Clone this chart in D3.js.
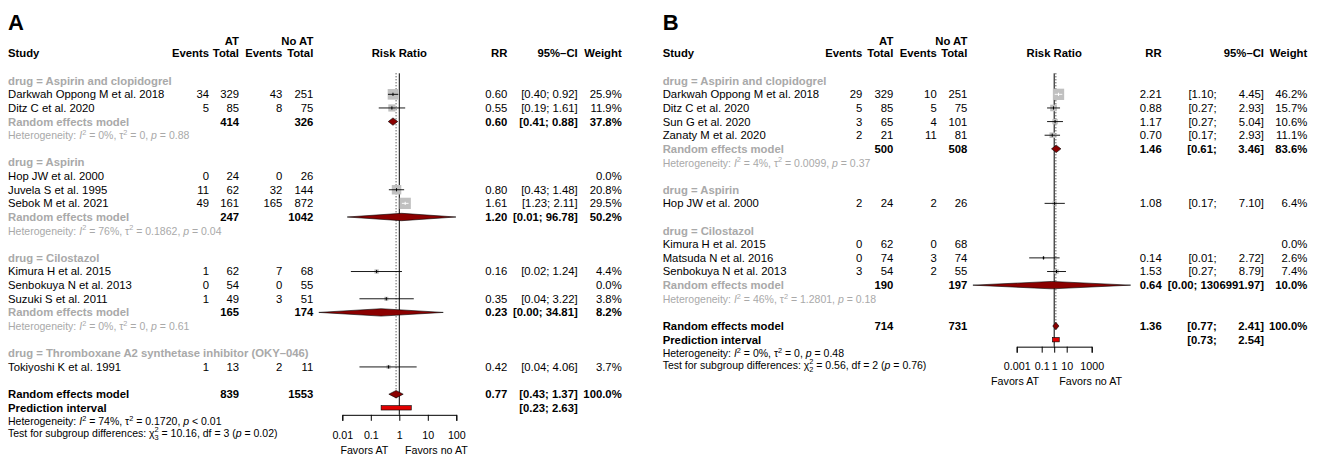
<!DOCTYPE html>
<html>
<head>
<meta charset="utf-8">
<script src="https://cdn.jsdelivr.net/npm/d3@7"></script>
<style>
  html, body { margin: 0; padding: 0; background: #fff; }
  svg { display: block; font-family: "Liberation Sans", Arial, Helvetica, sans-serif; }
</style>
</head>
<body>
<svg id="chart" width="1320" height="458"></svg>
<script>
// ---------- Panel A: all antithrombotic studies ----------
const groupsA = ["Aspirin and clopidogrel", "Aspirin", "Cilostazol",
                 "Thromboxane A2 synthetase inhibitor (OKY\u2013046)"];
const studyA = ["Darkwah Oppong M et al. 2018", "Ditz C et al. 2020", "Hop JW et al. 2000",
                "Juvela S et al. 1995", "Sebok M et al. 2021", "Kimura H et al. 2015",
                "Senbokuya N et al. 2013", "Suzuki S et al. 2011", "Tokiyoshi K et al. 1991"];
const groupOfA  = [0, 0, 1, 1, 1, 2, 2, 2, 3];
const eventsAtA = [34, 5, 0, 11, 49, 1, 0, 1, 1];
const totalAtA  = [329, 85, 24, 62, 161, 62, 54, 49, 13];
const eventsNoA = [43, 8, 0, 32, 165, 7, 0, 3, 2];
const totalNoA  = [251, 75, 26, 144, 872, 68, 55, 51, 11];
const rrA       = [0.60, 0.55, null, 0.80, 1.61, 0.16, null, 0.35, 0.42];
const lowerA    = [0.40, 0.19, null, 0.43, 1.23, 0.02, null, 0.04, 0.04];
const upperA    = [0.92, 1.61, null, 1.48, 2.11, 1.24, null, 3.22, 4.06];
const weightA   = [25.9, 11.9, 0.0, 20.8, 29.5, 4.4, 0.0, 3.8, 3.7];
const subRrA      = [0.60, 1.20, 0.23, null];
const subLowerA   = [0.41, 0.0149, 0.0015, null];
const subUpperA   = [0.88, 96.78, 34.81, null];
const subWeightA  = [37.8, 50.2, 8.2, null];
const subTotalAtA = [414, 247, 165, null];
const subTotalNoA = [326, 1042, 174, null];
const subI2A      = ["0%", "76%", "0%", null];
const subTau2A    = ["0", "0.1862", "0", null];
const subPA       = ["= 0.88", "= 0.04", "= 0.61", null];
const overallA    = [0.77, 0.43, 1.37, 100.0];
const overallTotA = [839, 1553];
const predA       = [0.23, 2.63];
const overallHetA = ["74%", "0.1720", "< 0.01"];
const testA       = ["3", "10.16", "3", "0.02"];
const ticksA      = [0.01, 0.1, 1, 10, 100];
const tickLabelsA = ["0.01", "0.1", "1", "10", "100"];

// ---------- Panel B ----------
const groupsB = ["Aspirin and clopidogrel", "Aspirin", "Cilostazol"];
const studyB = ["Darkwah Oppong M et al. 2018", "Ditz C et al. 2020", "Sun G et al. 2020",
                "Zanaty M et al. 2020", "Hop JW et al. 2000", "Kimura H et al. 2015",
                "Matsuda N et al. 2016", "Senbokuya N et al. 2013"];
const groupOfB  = [0, 0, 0, 0, 1, 2, 2, 2];
const eventsAtB = [29, 5, 3, 2, 2, 0, 0, 3];
const totalAtB  = [329, 85, 65, 21, 24, 62, 74, 54];
const eventsNoB = [10, 5, 4, 11, 2, 0, 3, 2];
const totalNoB  = [251, 75, 101, 81, 26, 68, 74, 55];
const rrB       = [2.21, 0.88, 1.17, 0.70, 1.08, null, 0.14, 1.53];
const lowerB    = [1.10, 0.27, 0.27, 0.17, 0.17, null, 0.01, 0.27];
const upperB    = [4.45, 2.93, 5.04, 2.93, 7.10, null, 2.72, 8.79];
const weightB   = [46.2, 15.7, 10.6, 11.1, 6.4, 0.0, 2.6, 7.4];
const subRrB      = [1.46, null, 0.64];
const subLowerB   = [0.61, null, 3.13e-7];
const subUpperB   = [3.46, null, 1306991.97];
const subWeightB  = [83.6, null, 10.0];
const subTotalAtB = [500, null, 190];
const subTotalNoB = [508, null, 197];
const subI2B      = ["4%", null, "46%"];
const subTau2B    = ["0.0099", null, "1.2801"];
const subPB       = ["= 0.37", null, "= 0.18"];
const overallB    = [1.36, 0.77, 2.41, 100.0];
const overallTotB = [714, 731];
const predB       = [0.73, 2.54];
const overallHetB = ["0%", "0", "= 0.48"];
const testB       = ["2", "0.56", "2", "0.76"];
const ticksB      = [0.001, 0.1, 1, 10, 1000];
const tickLabelsB = ["0.001", "0.1", "1", "10", "1000"];

// ---------- shared styling ----------
const FS = 11.3;          // main text size
const HFS = 10.5;         // heterogeneity text size
const AFS = 10.7;         // axis text size
const GREY = "#a9a9a9";
const SQUARE = "#c0c0c0";
const DIAMOND = "#8b0000";
const PRED = "#e00000";
const rowY = k => 80.7 + 13.63 * k;

const svg = d3.select("#chart");

function txt(g, x, y, s, opt = {}) {
  return g.append("text")
    .attr("x", x).attr("y", y).attr("dy", "0.35em")
    .attr("font-size", opt.size || FS)
    .attr("font-weight", opt.bold ? "bold" : null)
    .attr("text-anchor", opt.anchor || "end")
    .attr("fill", opt.color || "#000")
    .text(s);
}

// text with italic letters, superscripts and subscripts
function rich(g, x, y, parts, color) {
  const t = g.append("text").attr("x", x).attr("y", y + 0.35 * HFS)
    .attr("font-size", HFS).attr("fill", color);
  let shift = 0;
  parts.forEach(p => {
    const ts = t.append("tspan").text(p.t);
    let target = 0;
    if (p.sup) target = -HFS * 0.42;
    if (p.sub) target = HFS * 0.32;
    if (target !== shift) ts.attr("dy", target - shift);
    shift = target;
    if (p.sup || p.sub) ts.attr("font-size", HFS * 0.7);
    if (p.i) ts.attr("font-style", "italic");
    if (p.dx) ts.attr("dx", p.dx);
  });
  return t;
}

function hetParts(i2, tau2, p) {
  return [
    { t: "Heterogeneity: " }, { t: "I", i: true }, { t: "2", sup: true },
    { t: " = " + i2 + ", \u03c4" }, { t: "2", sup: true },
    { t: " = " + tau2 + ", " }, { t: "p", i: true }, { t: " " + p }
  ];
}

function drawPanel(P) {
  const g = svg.append("g");
  const C = P.cols;
  const x = d3.scaleLog().domain(P.domain).range(P.range);
  const f2 = v => v.toFixed(2);

  // panel letter and column headers
  g.append("text").attr("x", C.study).attr("y", 29.5)
    .attr("font-size", 22).attr("font-weight", "bold").text(P.letter);
  txt(g, C.totAt, 40.7, "AT", { bold: true });
  txt(g, C.totNo, 40.7, "No AT", { bold: true });
  txt(g, C.study, 53.3, "Study", { bold: true, anchor: "start" });
  txt(g, C.evAt, 53.3, "Events", { bold: true });
  txt(g, C.totAt, 53.3, "Total", { bold: true });
  txt(g, C.evNo, 53.3, "Events", { bold: true });
  txt(g, C.totNo, 53.3, "Total", { bold: true });
  txt(g, x(1), 53.3, "Risk Ratio", { bold: true, anchor: "middle" });
  txt(g, C.rr, 53.3, "RR", { bold: true });
  txt(g, C.ci, 53.3, "95%\u2013CI", { bold: true });
  txt(g, C.w, 53.3, "Weight", { bold: true });

  // row layout
  const rows = [];
  let k = 0;
  P.groups.forEach((name, gi) => {
    rows.push({ type: "group", k: k++, gi });
    P.groupOf.forEach((gg, i) => { if (gg === gi) rows.push({ type: "study", k: k++, i }); });
    if (P.subRr[gi] != null) {
      rows.push({ type: "sub", k: k++, gi });
      rows.push({ type: "het", k: k++, gi });
    }
    k++;
  });
  const kOverall = k, kPred = k + 1, kHet = k + 2;
  const axisY = rowY(kPred) + 7;
  const topY = rowY(0) - 7.4;

  const lines = g.append("g");
  const marks = g.append("g");

  // reference lines: no effect and overall estimate
  lines.append("line").attr("x1", x(1)).attr("x2", x(1))
    .attr("y1", topY).attr("y2", axisY).attr("stroke", "#000").attr("stroke-width", 1);
  lines.append("line").attr("x1", x(P.overall[0])).attr("x2", x(P.overall[0]))
    .attr("y1", topY).attr("y2", rowY(kOverall) + 4)
    .attr("stroke", "#000").attr("stroke-width", 0.9).attr("stroke-dasharray", "1,2");

  function ciText(y, lo, hi, bold) {
    if (!P.splitCI) { txt(g, C.ci, y, "[" + f2(lo) + "; " + f2(hi) + "]", { bold }); return; }
    const up = txt(g, C.ci, y, f2(hi) + "]", { bold });
    const wUp = up.node().getComputedTextLength();
    txt(g, Math.min(C.ciLo, C.ci - wUp - 3.2), y, "[" + f2(lo) + ";", { bold });
  }

  function diamond(y, est, lo, hi) {
    const h = 3.7;
    marks.append("path")
      .attr("d", `M${x(lo)},${y}L${x(est)},${y - h}L${x(hi)},${y}L${x(est)},${y + h}Z`)
      .attr("fill", DIAMOND).attr("stroke", "#000").attr("stroke-width", 0.6);
  }

  const wMax = d3.max(P.weight);
  rows.forEach(r => {
    const y = rowY(r.k);
    if (r.type === "group") {
      txt(g, C.study, y, "drug = " + P.groups[r.gi], { bold: true, anchor: "start", color: GREY });
    } else if (r.type === "study") {
      const i = r.i;
      txt(g, C.study, y, P.study[i], { anchor: "start" });
      txt(g, C.evAt, y, P.eventsAt[i]);
      txt(g, C.totAt, y, P.totalAt[i]);
      txt(g, C.evNo, y, P.eventsNo[i]);
      txt(g, C.totNo, y, P.totalNo[i]);
      txt(g, C.w, y, P.weight[i].toFixed(1) + "%");
      if (P.rr[i] != null) {
        txt(g, C.rr, y, f2(P.rr[i]));
        ciText(y, P.lower[i], P.upper[i], false);
        const cx = x(P.rr[i]);
        const side = 11.3 * Math.sqrt(P.weight[i] / wMax);
        const x0 = x(P.lower[i]), x1 = x(P.upper[i]);
        marks.append("rect").attr("x", cx - side / 2).attr("y", y - side / 2)
          .attr("width", side).attr("height", side).attr("fill", SQUARE);
        // CI drawn in white when it lies entirely within the square
        const inside = x0 > cx - side / 2 + 0.5 && x1 < cx + side / 2 - 0.5;
        const col = inside ? "#fff" : "#000";
        marks.append("line").attr("x1", x0).attr("x2", x1).attr("y1", y).attr("y2", y)
          .attr("stroke", col).attr("stroke-width", 0.9);
        marks.append("line").attr("x1", cx).attr("x2", cx).attr("y1", y - 1.6).attr("y2", y + 1.6)
          .attr("stroke", col).attr("stroke-width", 1);
      }
    } else if (r.type === "sub") {
      const gi = r.gi;
      txt(g, C.study, y, "Random effects model", { bold: true, anchor: "start", color: GREY });
      txt(g, C.totAt, y, P.subTotalAt[gi], { bold: true });
      txt(g, C.totNo, y, P.subTotalNo[gi], { bold: true });
      txt(g, C.rr, y, f2(P.subRr[gi]), { bold: true });
      ciText(y, P.subLower[gi], P.subUpper[gi], true);
      txt(g, C.w, y, P.subWeight[gi].toFixed(1) + "%", { bold: true });
      diamond(y, P.subRr[gi], P.subLower[gi], P.subUpper[gi]);
    } else if (r.type === "het") {
      const gi = r.gi;
      rich(g, C.study, y + 0.6, hetParts(P.subI2[gi], P.subTau2[gi], P.subP[gi]), GREY);
    }
  });

  // overall pooled estimate
  const yO = rowY(kOverall);
  txt(g, C.study, yO, "Random effects model", { bold: true, anchor: "start" });
  txt(g, C.totAt, yO, P.overallTot[0], { bold: true });
  txt(g, C.totNo, yO, P.overallTot[1], { bold: true });
  txt(g, C.rr, yO, f2(P.overall[0]), { bold: true });
  ciText(yO, P.overall[1], P.overall[2], true);
  txt(g, C.w, yO, P.overall[3].toFixed(1) + "%", { bold: true });
  diamond(yO, P.overall[0], P.overall[1], P.overall[2]);

  // prediction interval
  const yP = rowY(kPred);
  txt(g, C.study, yP, "Prediction interval", { bold: true, anchor: "start" });
  ciText(yP, P.pred[0], P.pred[1], true);
  marks.append("rect").attr("x", x(P.pred[0])).attr("y", yP - 2.2)
    .attr("width", x(P.pred[1]) - x(P.pred[0])).attr("height", 4.4)
    .attr("fill", PRED).attr("stroke", "#000").attr("stroke-width", 0.6);

  // overall heterogeneity and subgroup test
  const yH = rowY(kHet);
  rich(g, C.study, yH, hetParts(P.overallHet[0], P.overallHet[1], P.overallHet[2]), "#000");
  rich(g, C.study, yH + 11.6, [
    { t: "Test for subgroup differences: \u03c7" }, { t: P.test[0], sub: true },
    { t: "2", sup: true, dx: -4.1 },
    { t: " = " + P.test[1] + ", df = " + P.test[2] + " (" }, { t: "p", i: true },
    { t: " = " + P.test[3] + ")" }
  ], "#000");

  // log axis
  const ax = g.append("g").attr("transform", `translate(0,${axisY})`)
    .call(d3.axisBottom(x).tickValues(P.ticks).tickSize(6).tickPadding(P.tickPad)
      .tickFormat((d, i) => P.tickLabels[i]));
  ax.attr("font-family", null).attr("font-size", AFS);
  ax.select(".domain").attr("stroke", "#000");
  ax.selectAll(".tick line").attr("stroke", "#000");
  ax.selectAll(".tick text").attr("fill", "#000");
  txt(g, P.favLeft, axisY + 35, "Favors AT", { anchor: "end", size: AFS });
  txt(g, P.favRight, axisY + 35, "Favors no AT", { anchor: "start", size: AFS });
}

drawPanel({
  letter: "A", groups: groupsA, study: studyA, groupOf: groupOfA,
  eventsAt: eventsAtA, totalAt: totalAtA, eventsNo: eventsNoA, totalNo: totalNoA,
  rr: rrA, lower: lowerA, upper: upperA, weight: weightA,
  subRr: subRrA, subLower: subLowerA, subUpper: subUpperA, subWeight: subWeightA,
  subTotalAt: subTotalAtA, subTotalNo: subTotalNoA, subI2: subI2A, subTau2: subTau2A, subP: subPA,
  overall: overallA, overallTot: overallTotA, pred: predA, overallHet: overallHetA, test: testA,
  ticks: ticksA, tickLabels: tickLabelsA,
  domain: [0.01, 100], range: [342.3, 456.3], tickPad: 11,
  favLeft: 388.3, favRight: 405,
  splitCI: false,
  cols: { study: 8, evAt: 209, totAt: 239, evNo: 282.3, totNo: 313.3, rr: 507.3, ci: 577.7, w: 621.7 }
});

drawPanel({
  letter: "B", groups: groupsB, study: studyB, groupOf: groupOfB,
  eventsAt: eventsAtB, totalAt: totalAtB, eventsNo: eventsNoB, totalNo: totalNoB,
  rr: rrB, lower: lowerB, upper: upperB, weight: weightB,
  subRr: subRrB, subLower: subLowerB, subUpper: subUpperB, subWeight: subWeightB,
  subTotalAt: subTotalAtB, subTotalNo: subTotalNoB, subI2: subI2B, subTau2: subTau2B, subP: subPB,
  overall: overallB, overallTot: overallTotB, pred: predB, overallHet: overallHetB, test: testB,
  ticks: ticksB, tickLabels: tickLabelsB,
  domain: [0.001, 1000], range: [1016.7, 1091.7], tickPad: 10,
  favLeft: 1039, favRight: 1059.3,
  splitCI: true,
  cols: { study: 662.7, evAt: 862.3, totAt: 893.3, evNo: 936.7, totNo: 967.3, rr: 1161.7, ciLo: 1216.7, ci: 1264, w: 1307.3 }
});
</script>
</body>
</html>
